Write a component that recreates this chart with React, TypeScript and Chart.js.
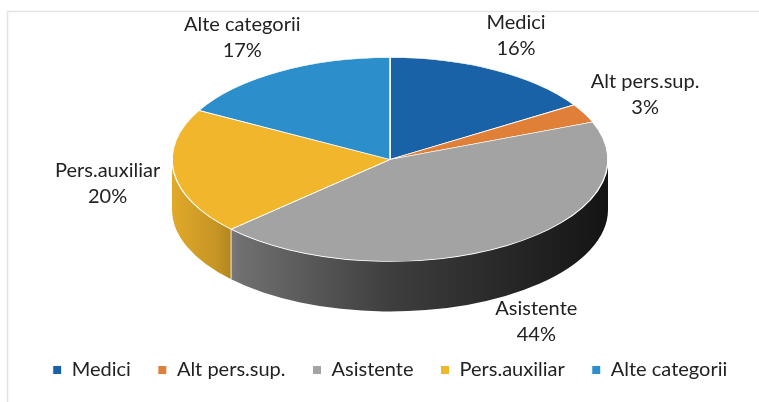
import React, { useEffect, useRef } from "react";
import { Chart, registerables } from "chart.js";

Chart.register(...registerables);

const categories = ["Medici", "Alt pers.sup.", "Asistente", "Pers.auxiliar", "Alte categorii"];
const values = [16, 3, 44, 20, 17];
const colors = ["#1a62a8", "#e07f38", "#a3a3a3", "#f2b62c", "#2c8ecb"];

const RX = 218;
const RY = 102;
const DEPTH = 50;
const GAP = 14;
const FONT = "Lato";
const FONT_SIZE = 20;
const LINE_H = 26;

function shade(hex: string, f: number): string {
  const n = parseInt(hex.slice(1), 16);
  const r = Math.round(((n >> 16) & 255) * f);
  const g = Math.round(((n >> 8) & 255) * f);
  const b = Math.round((n & 255) * f);
  return `rgb(${r},${g},${b})`;
}

const framePlugin = {
  id: "frame",
  beforeDraw(chart: any) {
    const ctx = chart.ctx;
    ctx.save();
    ctx.fillStyle = "#ffffff";
    ctx.fillRect(0, 0, chart.width, chart.height);
    ctx.strokeStyle = "#e4e4e4";
    ctx.lineWidth = 1.5;
    ctx.strokeRect(7.5, 11.5, chart.width + 10, chart.height + 10);
    ctx.restore();
  },
};

const pie3dPlugin = {
  id: "pie3d",
  beforeDatasetsDraw(chart: any) {
    const ctx = chart.ctx;
    const arcs = chart.getDatasetMeta(0).data;
    ctx.save();
    if (!arcs.length) return;
    const { x, y, outerRadius } = arcs[0].getProps(["x", "y", "outerRadius"], true);
    const ex = x;
    const ey = y - DEPTH / 2;
    // side walls (front half only)
    arcs.forEach((arc: any, i: number) => {
      const p = arc.getProps(["startAngle", "endAngle"], true);
      const s = Math.max(p.startAngle, 0);
      const e = Math.min(p.endAngle, Math.PI);
      if (e <= s) return;
      const g = ctx.createLinearGradient(ex - RX, 0, ex + RX, 0);
      g.addColorStop(0, shade(colors[i], 0.93));
      g.addColorStop(0.1, shade(colors[i], 0.82));
      g.addColorStop(0.16, shade(colors[i], 0.68));
      g.addColorStop(0.5, shade(colors[i], 0.38));
      g.addColorStop(1, shade(colors[i], 0.12));
      ctx.beginPath();
      ctx.ellipse(ex, ey, RX, RY, 0, s, e);
      ctx.ellipse(ex, ey + DEPTH, RX, RY, 0, e, s, true);
      ctx.closePath();
      ctx.fillStyle = g;
      ctx.fill();
    });
    // slice edges on the wall
    ctx.strokeStyle = "rgba(255,255,255,0.8)";
    ctx.lineWidth = 1;
    arcs.forEach((arc: any) => {
      const p = arc.getProps(["startAngle"], true);
      const a = p.startAngle;
      if (a > 0 && a < Math.PI) {
        const px = ex + RX * Math.cos(a);
        const py = ey + RY * Math.sin(a);
        ctx.beginPath();
        ctx.moveTo(px, py);
        ctx.lineTo(px, py + DEPTH);
        ctx.stroke();
      }
    });
    // flatten the top face
    ctx.translate(ex, ey);
    ctx.scale(RX / outerRadius, RY / outerRadius);
    ctx.translate(-x, -y);
  },
  afterDatasetsDraw(chart: any) {
    const ctx = chart.ctx;
    ctx.restore();
    const arcs = chart.getDatasetMeta(0).data;
    if (!arcs.length) return;
    const { x, y } = arcs[0].getProps(["x", "y"], true);
    const ex = x;
    const ey = y - DEPTH / 2;
    const total = values.reduce((a, b) => a + b, 0);
    ctx.save();
    ctx.font = `${FONT_SIZE}px ${FONT}`;
    ctx.fillStyle = "#222222";
    ctx.textAlign = "center";
    ctx.textBaseline = "middle";
    arcs.forEach((arc: any, i: number) => {
      const p = arc.getProps(["startAngle", "endAngle"], true);
      const m = (p.startAngle + p.endAngle) / 2;
      const c = Math.cos(m);
      const s = Math.sin(m);
      const lines = [categories[i], Math.round((values[i] / total) * 100) + "%"];
      const w = Math.max(...lines.map((l) => ctx.measureText(l).width));
      const h = lines.length * LINE_H;
      const ax = ex + (RX + GAP) * c;
      const ay = ey + (RY + GAP) * s + (s > 0 ? DEPTH * s : 0);
      const cx = ax + (c * w) / 2;
      const cy = ay + (s * h) / 2;
      lines.forEach((l, k) => {
        ctx.fillText(l, cx, cy - h / 2 + LINE_H * (k + 0.5));
      });
    });
    ctx.restore();
  },
};

export default function App() {
  const ref = useRef<HTMLCanvasElement>(null);
  useEffect(() => {
    if (!ref.current) return;
    const chart = new Chart(ref.current, {
      type: "pie",
      data: {
        labels: categories,
        datasets: [
          {
            data: values,
            backgroundColor: colors,
            borderColor: "#ffffff",
            borderWidth: 1,
            clip: false as any,
          },
        ],
      },
      options: {
        responsive: false,
        animation: false,
        devicePixelRatio: 1,
        layout: { padding: { left: 21, top: 36, right: 0, bottom: 12 } },
        plugins: {
          legend: {
            position: "bottom",
            labels: {
              boxWidth: 9,
              boxHeight: 9,
              padding: 27,
              color: "#222222",
              font: { family: FONT, size: FONT_SIZE },
            },
          },
          tooltip: { enabled: false },
        },
      },
      plugins: [framePlugin, pie3dPlugin],
    });
    return () => chart.destroy();
  }, []);
  return (
    <div style={{ position: "absolute", left: 0, top: 0, width: 759, height: 402 }}>
      <canvas ref={ref} width={759} height={402} />
    </div>
  );
}
